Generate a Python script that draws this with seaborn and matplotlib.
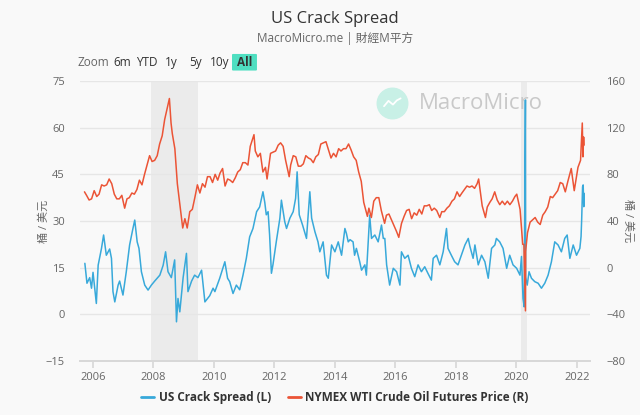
import matplotlib
matplotlib.use("Agg")
import matplotlib.pyplot as plt
from matplotlib.lines import Line2D
from matplotlib.patches import FancyBboxPatch
import seaborn as sns
import pandas as pd

# US crack spread (USD/bbl), left axis, decimal years
crack_years = [2005.73, 2005.80, 2005.89, 2005.95, 2006.00, 2006.11, 2006.17, 2006.28, 2006.35, 2006.44,
               2006.55, 2006.61, 2006.66, 2006.72, 2006.83, 2006.88, 2006.99, 2007.10, 2007.21, 2007.32,
               2007.38, 2007.46, 2007.52, 2007.60, 2007.71, 2007.82, 2007.93, 2008.04, 2008.21, 2008.32,
               2008.40, 2008.48, 2008.59, 2008.70, 2008.76, 2008.81, 2008.87, 2008.98, 2009.09, 2009.14,
               2009.26, 2009.36, 2009.47, 2009.59, 2009.70, 2009.86, 2009.97, 2010.03, 2010.19, 2010.36,
               2010.45, 2010.52, 2010.63, 2010.74, 2010.85, 2010.96, 2011.07, 2011.18, 2011.29, 2011.41,
               2011.51, 2011.62, 2011.68, 2011.73, 2011.79, 2011.84, 2011.90, 2011.95, 2012.06, 2012.18,
               2012.23, 2012.34, 2012.40, 2012.51, 2012.62, 2012.70, 2012.75, 2012.82, 2012.93, 2013.06,
               2013.17, 2013.23, 2013.34, 2013.44, 2013.50, 2013.61, 2013.72, 2013.78, 2013.89, 2014.00,
               2014.11, 2014.22, 2014.33, 2014.38, 2014.44, 2014.50, 2014.60, 2014.65, 2014.71, 2014.82,
               2014.88, 2014.99, 2015.04, 2015.15, 2015.21, 2015.32, 2015.43, 2015.54, 2015.60, 2015.65,
               2015.71, 2015.81, 2015.93, 2016.04, 2016.15, 2016.20, 2016.31, 2016.42, 2016.53, 2016.64,
               2016.75, 2016.86, 2016.97, 2017.08, 2017.19, 2017.25, 2017.36, 2017.47, 2017.58, 2017.69,
               2017.74, 2017.85, 2017.96, 2018.07, 2018.18, 2018.30, 2018.41, 2018.46, 2018.57, 2018.63,
               2018.74, 2018.85, 2018.96, 2019.07, 2019.18, 2019.29, 2019.34, 2019.45, 2019.56, 2019.68,
               2019.78, 2019.89, 2020.01, 2020.12, 2020.17, 2020.22, 2020.26, 2020.30, 2020.305, 2020.36,
               2020.42, 2020.50, 2020.61, 2020.72, 2020.83, 2020.94, 2021.05, 2021.16, 2021.27, 2021.38,
               2021.49, 2021.60, 2021.68, 2021.77, 2021.88, 2021.99, 2022.10, 2022.14, 2022.16, 2022.18,
               2022.19, 2022.21, 2022.23, 2022.24]
crack_values = [16.4, 10.0, 11.8, 8.4, 13.5, 3.5, 15.8, 21.2, 25.5, 19,
                21, 18, 7.3, 4, 9.4, 10.7, 6.2, 13.7, 22.3, 27.6,
                30.3, 23.3, 21.2, 13.7, 9.4, 7.8, 9.4, 10.7, 12.6, 15.8,
                20.1, 13.7, 11.8, 17.5, -2.4, 5.1, 0.8, 11.8, 19.6, 7.3,
                10.7, 12.6, 11.8, 14.2, 4, 6.0, 8.4, 7.3, 11.6, 16.9,
                11.6, 10.5, 6.7, 9.4, 7.9, 12.6, 18, 24.9, 27.6, 33,
                34.5, 39.4, 36, 32, 33, 25.5, 13.2, 15.9, 23.3, 30.9,
                36.7, 29.8, 27.6, 30.9, 33, 37.3, 45.8, 32, 28.7, 24.4,
                39.4, 30.9, 26.5, 23.3, 20.1, 23.3, 12.6, 11.6, 22.3, 20.1,
                23.3, 19, 27.6, 26, 23.3, 24, 23.3, 19, 21.2, 16.9,
                14.2, 15.9, 12.6, 31.9, 24.4, 25.5, 23.3, 28.7, 24.4, 24.4,
                15.9, 9.4, 14.8, 13.7, 9.4, 20.1, 18, 19, 14.8, 12.1,
                15.9, 13.7, 15.3, 13.1, 11, 18, 19, 15.9, 20.1, 27.6,
                21.2, 19, 16.9, 15.9, 19, 22.3, 24.4, 22, 18, 22.3,
                15.9, 19, 16.9, 11.6, 21.2, 22.3, 24.4, 23.3, 21.2, 14.8,
                19, 15.9, 14.8, 12.6, 18.6, 5.1, 2.4, 68.9, 12, 9.4,
                13.7, 11.6, 10.5, 10, 8.4, 10, 12.6, 16.9, 23.3, 22.3,
                20.1, 24.4, 25.5, 18, 22.3, 19, 21.2, 25, 30.3, 36.7,
                41, 41.6, 34.6, 38.9]

# NYMEX WTI crude oil futures (USD/bbl), right axis
wti_dates = ["2005-09-20", "2005-10-15", "2005-11-15", "2005-12-15",
             "2006-01-15", "2006-02-15", "2006-03-15", "2006-04-15", "2006-05-15", "2006-06-15",
             "2006-07-15", "2006-08-15", "2006-09-15", "2006-10-15", "2006-11-15", "2006-12-15",
             "2007-01-18", "2007-02-15", "2007-03-15", "2007-04-15", "2007-05-15", "2007-06-15",
             "2007-07-15", "2007-08-15", "2007-09-15", "2007-10-15", "2007-11-15", "2007-12-15",
             "2008-01-15", "2008-02-15", "2008-03-15", "2008-04-15", "2008-05-15", "2008-06-15",
             "2008-07-11", "2008-07-31", "2008-08-15", "2008-09-15", "2008-10-15", "2008-11-15",
             "2008-12-19", "2009-01-15", "2009-02-12", "2009-03-15", "2009-04-15", "2009-05-15",
             "2009-06-15", "2009-07-15", "2009-08-15", "2009-09-15", "2009-10-15", "2009-11-15",
             "2009-12-15", "2010-01-15", "2010-02-15", "2010-03-15", "2010-04-15", "2010-05-15",
             "2010-06-15", "2010-07-15", "2010-08-15", "2010-09-15", "2010-10-15", "2010-11-15",
             "2010-12-15", "2011-01-15", "2011-02-15", "2011-03-15", "2011-04-29", "2011-05-15",
             "2011-06-15", "2011-07-15", "2011-08-15", "2011-09-15", "2011-10-04", "2011-11-15",
             "2011-12-15", "2012-01-15", "2012-02-15", "2012-03-15", "2012-04-15", "2012-05-15",
             "2012-06-27", "2012-07-15", "2012-08-15", "2012-09-15", "2012-10-15", "2012-11-15",
             "2012-12-15", "2013-01-15", "2013-02-15", "2013-03-15", "2013-04-15", "2013-05-15",
             "2013-06-15", "2013-07-15", "2013-08-15", "2013-09-15", "2013-10-15", "2013-11-15",
             "2013-12-15", "2014-01-15", "2014-02-15", "2014-03-15", "2014-04-15", "2014-05-15",
             "2014-06-15", "2014-07-15", "2014-08-15", "2014-09-15", "2014-10-15", "2014-11-15",
             "2014-12-15", "2015-01-28", "2015-02-15", "2015-03-17", "2015-04-15", "2015-05-15",
             "2015-06-15", "2015-07-15", "2015-08-24", "2015-09-15", "2015-10-15", "2015-11-15",
             "2015-12-15", "2016-01-15", "2016-02-11", "2016-03-15", "2016-04-15", "2016-05-15",
             "2016-06-15", "2016-07-15", "2016-08-15", "2016-09-15", "2016-10-15", "2016-11-15",
             "2016-12-15", "2017-01-15", "2017-02-15", "2017-03-15", "2017-04-15", "2017-05-15",
             "2017-06-21", "2017-07-15", "2017-08-15", "2017-09-15", "2017-10-15", "2017-11-15",
             "2017-12-15", "2018-01-15", "2018-02-15", "2018-03-15", "2018-04-15", "2018-05-15",
             "2018-06-15", "2018-07-15", "2018-08-15", "2018-09-15", "2018-10-03", "2018-11-15",
             "2018-12-24", "2019-01-15", "2019-02-15", "2019-03-15", "2019-04-15", "2019-05-15",
             "2019-06-15", "2019-07-15", "2019-08-15", "2019-09-15", "2019-10-15", "2019-11-15",
             "2019-12-15", "2020-01-06", "2020-02-15", "2020-03-18", "2020-04-01", "2020-04-20",
             "2020-04-22", "2020-05-15", "2020-06-15", "2020-07-15", "2020-08-15", "2020-09-15",
             "2020-10-15", "2020-11-15", "2020-12-15", "2021-01-15", "2021-02-15", "2021-03-15",
             "2021-04-15", "2021-05-15", "2021-06-15", "2021-07-15", "2021-08-15", "2021-09-15",
             "2021-10-26", "2021-12-01", "2022-01-15", "2022-02-15", "2022-03-08", "2022-03-16",
             "2022-03-24", "2022-03-29"]
wti_values = [65, 62, 58, 59,
              66, 61, 63, 71, 70, 71,
              76, 72, 63, 59, 59, 62,
              51, 59, 60, 64, 63, 67,
              75, 71, 80, 88, 96, 91,
              92, 96, 106, 113, 127, 137,
              145, 124, 115, 102, 72, 54,
              34, 42, 34, 48, 50, 60,
              71, 64, 72, 69, 78, 78,
              73, 80, 75, 81, 85, 70,
              76, 75, 73, 77, 82, 84,
              90, 90, 88, 104, 114, 100,
              95, 98, 82, 86, 76, 98,
              99, 100, 105, 107, 104, 92,
              78, 88, 96, 95, 87, 87,
              89, 96, 94, 93, 90, 95,
              97, 106, 107, 108, 101, 94,
              98, 95, 102, 100, 102, 102,
              106, 101, 95, 92, 82, 74,
              56, 44, 51, 43, 57, 60,
              60, 49, 38, 45, 46, 41,
              36, 31, 26, 38, 44, 49,
              50, 42, 47, 45, 50, 46,
              53, 53, 54, 49, 51, 49,
              43, 48, 48, 51, 53, 57,
              59, 65, 61, 64, 67, 70,
              69, 70, 68, 72, 76, 53,
              43, 52, 56, 59, 65, 58,
              54, 57, 54, 57, 54, 57,
              61, 63, 50, 20, 20, -37,
              14, 30, 39, 41, 43, 39,
              37, 45, 48, 52, 61, 60,
              63, 66, 73, 72, 65, 74,
              85, 66, 86, 92, 124, 95,
              112, 105]

# recessions (shaded)
recessions = [(2007.92, 2009.47), (2020.14, 2020.35)]

zoom_labels = ["Zoom", "6m", "YTD", "1y", "5y", "10y", "All"]

blue = "#38a9da"
red = "#eb5436"
bg = "#f9f9f9"

sns.set_theme(style="white")
plt.rcParams["font.family"] = ["Open Sans", "Noto Sans CJK TC", "DejaVu Sans"]

wti_dt = pd.to_datetime(wti_dates)
wti_years = wti_dt.year + (wti_dt.dayofyear - 1) / 365.25

crack = pd.DataFrame({"year": crack_years, "value": crack_values})
wti = pd.DataFrame({"year": wti_years, "value": wti_values})

fig = plt.figure(figsize=(6.4, 4.15), dpi=100, facecolor=bg)
ax = fig.add_axes([0.1255, 0.1301, 0.7961, 0.6747])
ax.set_facecolor(bg)
ax2 = ax.twinx()

for start, end in recessions:
    ax.axvspan(start, end, color="#ebebeb", lw=0, zorder=0)

sns.lineplot(data=crack, x="year", y="value", ax=ax, color=blue, lw=1.1,
             estimator=None, sort=False, zorder=3)
sns.lineplot(data=wti, x="year", y="value", ax=ax2, color=red, lw=1.1,
             estimator=None, sort=False, zorder=3)

ax.set_xlim(2005.58, 2022.43)
ax.set_ylim(-15, 75)
ax2.set_ylim(-80, 160)
ax.set_yticks(range(-15, 76, 15))
ax2.set_yticks(range(-80, 161, 40))
ax.set_xticks(range(2006, 2023, 2))

ax.yaxis.grid(True, color="#e6e6e6", lw=1)
ax.set_axisbelow(True)
for a in (ax, ax2):
    for s in ("top", "left", "right"):
        a.spines[s].set_visible(False)
    a.spines["bottom"].set_color("#d8d8d8")

ax.tick_params(axis="x", length=5, color="#d8d8d8", pad=3, labelsize=8, labelcolor="#666666", bottom=True)
ax.tick_params(axis="y", length=0, pad=11, labelsize=8, labelcolor="#666666")
ax2.tick_params(axis="y", length=0, pad=12, labelsize=8, labelcolor="#666666")

ax.set_xlabel("")
ax.set_ylabel("桶 / 美元", fontsize=8, color="#666666", rotation=90)
ax2.set_ylabel("桶 / 美元", fontsize=8, color="#666666", rotation=270)
ax.yaxis.set_label_coords(-0.059, 0.5)
ax2.yaxis.set_label_coords(1.086, 0.5)

# title and subtitle
fig.text(0.5234, 0.954, "US Crack Spread", ha="center", va="center", fontsize=12, color="#333333")
fig.text(0.5234, 0.9084, "MacroMicro.me | 財經M平方", ha="center", va="center", fontsize=8.5,
         color="#666666")

# range selector
btn_x = [0.146, 0.191, 0.2297, 0.268, 0.3055, 0.3437, 0.382]
fig.patches.append(FancyBboxPatch((0.3645, 0.832), 0.035, 0.036, boxstyle="round,pad=0.002",
                                  transform=fig.transFigure, fc="#4fdfc1", ec="none"))
for lab, x in zip(zoom_labels, btn_x):
    fig.text(x, 0.8506, lab, ha="center", va="center", fontsize=8.5,
             color="#666666" if lab == "Zoom" else "#333333",
             fontweight="bold" if lab == "All" else "normal")

# watermark
fig.add_artist(Line2D([0.612], [0.751], marker="o", markersize=22, color="#c8f0e6", ls="none",
                      transform=fig.transFigure))
fig.add_artist(Line2D([0.6, 0.607, 0.614, 0.62, 0.626], [0.744, 0.757, 0.748, 0.758, 0.763],
                      color="white", lw=1.3, transform=fig.transFigure))
fig.text(0.655, 0.751, "MacroMicro", ha="left", va="center", fontsize=16, color="#c9c9c9")

# legend
handles = [Line2D([], [], color=blue, lw=2), Line2D([], [], color=red, lw=2)]
labels = ["US Crack Spread (L)", "NYMEX WTI Crude Oil Futures Price (R)"]
leg = fig.legend(handles, labels, loc="center", bbox_to_anchor=(0.5234, 0.041), ncol=2,
                 frameon=False, handlelength=1.1, handletextpad=0.4, columnspacing=1.4,
                 prop={"size": 8.5, "weight": "bold"})
for t in leg.get_texts():
    t.set_color("#333333")

fig.savefig("out.png", dpi=100, facecolor=bg)
